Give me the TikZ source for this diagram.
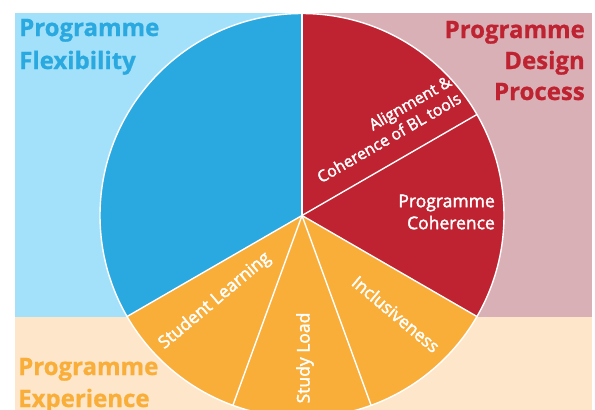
\documentclass[tikz,border=0pt]{standalone}
\usepackage{fontspec}
\setmainfont{Open Sans}
\newfontfamily\lblfont[FakeBold=2]{Open Sans}
\newfontfamily\headfont[BoldFeatures={FakeBold=0.8}]{Open Sans}
\definecolor{bgblue}{HTML}{A3E1FA}
\definecolor{pieblue}{HTML}{2AA8E0}
\definecolor{bgpink}{HTML}{D9B0B6}
\definecolor{piered}{HTML}{BF2230}
\definecolor{bgorange}{HTML}{FDE6C9}
\definecolor{pieorange}{HTML}{FAAE3A}
\tikzset{
  sep/.style={draw=white, line width=1.4pt},
  lbl/.style={text=white, inner sep=0pt, font=\lblfont\fontsize{17.5}{22}\selectfont},
  smalllbl/.style={text=white, inner sep=0pt, font=\lblfont\fontsize{16}{19.5}\selectfont},
  head/.style={inner sep=0pt, font=\headfont\bfseries\fontsize{24}{28}\selectfont}
}
\begin{document}
\begin{tikzpicture}[x=1pt,y=1pt]
\useasboundingbox (0,0) rectangle (595,-410);
\clip (0,0) rectangle (595,-410);
\fill[bgblue] (15,-13) rectangle (302,-317);
\fill[bgpink] (302,-13) rectangle (592,-317);
\fill[bgorange] (15,-317) rectangle (592,-410);
\coordinate (C) at (302,-215.5);
\def\R{202}
\fill[pieblue] (C) -- ++(90:\R) arc[start angle=90,end angle=210,radius=\R] -- cycle;
\fill[piered] (C) -- ++(-30:\R) arc[start angle=-30,end angle=90,radius=\R] -- cycle;
\fill[pieorange] (C) -- ++(210:\R) arc[start angle=210,end angle=330,radius=\R] -- cycle;
\draw[sep] (C) circle[radius=\R];
\foreach \a in {90,210,330,30,250,290} \draw[sep] (C) -- ++(\a:\R);
% slice labels
\node[smalllbl, rotate=30, align=right] (alignlbl) at (384,-129) {Alignment \&\\Coherence of BL tools};
\node[lbl, align=right, anchor=east] (cohlbl) at (495,-212) {Programme\\Coherence};
\node[lbl, rotate=40] (sllbl) at (215,-301) {Student Learning};
\node[lbl, rotate=90] (loadlbl) at (305,-358) {Study Load};
\node[lbl, rotate=-40] (incllbl) at (396,-314) {Inclusiveness};
% headings
\node[head, text=pieblue, anchor=base west] (pf1) at (19,-36) {Programme};
\node[head, text=pieblue, anchor=base west] (pf2) at (19,-69) {Flexibility};
\node[head, text=piered, anchor=base east] (pd1) at (585,-38) {Programme};
\node[head, text=piered, anchor=base east] (pd2) at (585,-69) {Design};
\node[head, text=piered, anchor=base east] (pd3) at (585,-100) {Process};
\node[head, text=pieorange, anchor=base west] (pe1) at (18,-375) {Programme};
\node[head, text=pieorange, anchor=base west] (pe2) at (18,-407) {Experience};
\end{tikzpicture}
\end{document}
